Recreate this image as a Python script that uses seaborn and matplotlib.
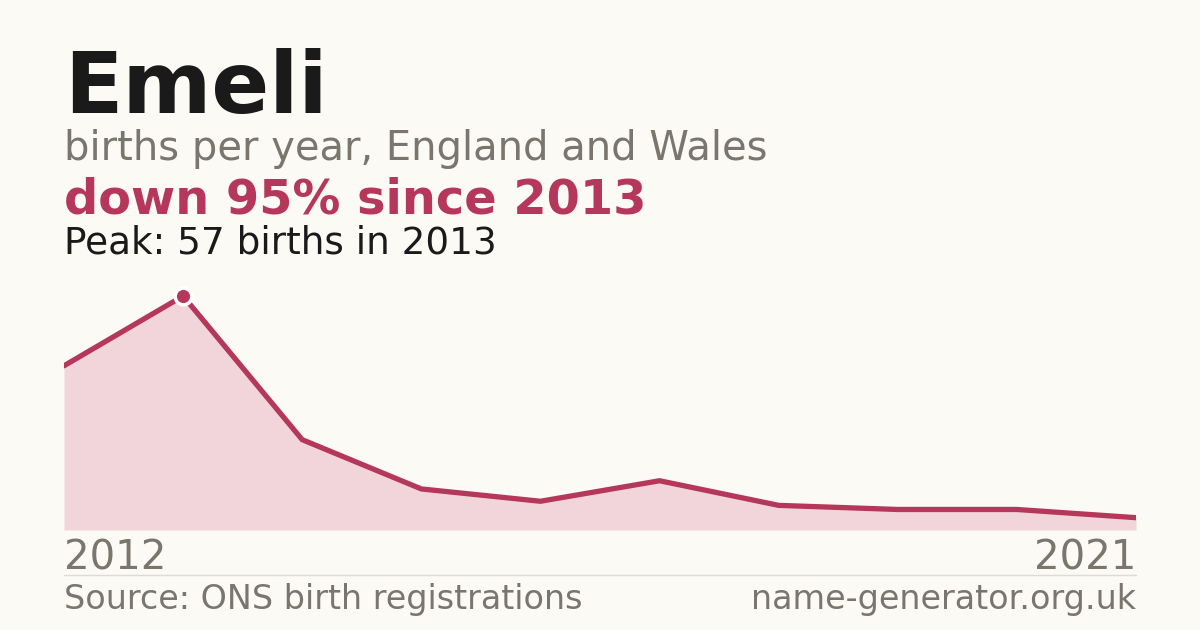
import matplotlib
matplotlib.use("Agg")
import matplotlib.pyplot as plt
import seaborn as sns
import pandas as pd
from matplotlib.lines import Line2D

years = [2012, 2013, 2014, 2015, 2016, 2017, 2018, 2019, 2020, 2021]
births = [40, 57, 22, 10, 7, 12, 6, 5, 5, 3]

name = "Emeli"
subtitle = "births per year, England and Wales"
headline = "down 95% since 2013"
peak_text = "Peak: 57 births in 2013"
source = "Source: ONS birth registrations"
site = "name-generator.org.uk"

bg = "#fbfaf5"
accent = "#b5385a"
fill = "#f1d5db"
grey = "#7a756d"
dark = "#1a1a1a"

sns.set_style("white")
plt.rcParams["font.family"] = ["DejaVu Sans"]

W, H = 1200, 630
fig = plt.figure(figsize=(12, 6.3), dpi=100, facecolor=bg)

def fx(px):
    return px / W

def fy(py):
    return 1 - py / H

# plot area: x 64..1136, y 280..530 (pixels from top)
ax = fig.add_axes([fx(64), fy(530), fx(1136) - fx(64), (530 - 280) / H])
ax.set_facecolor(bg)

df = pd.DataFrame({"year": years, "births": births})
ax.fill_between(df["year"], df["births"], 0, color=fill, lw=0)
sns.lineplot(data=df, x="year", y="births", ax=ax, color=accent, lw=3.8,
             solid_joinstyle="miter")

peak_i = df["births"].idxmax()
ax.plot(df["year"][peak_i], df["births"][peak_i], "o", color=accent, ms=12,
        mec="white", mew=2.5, zorder=5, clip_on=False)

ax.set_xlim(years[0], years[-1])
ax.set_ylim(0, max(births) * 250 / 234)
ax.axis("off")

fig.text(fx(64), fy(113), name, fontsize=61.5, fontweight="bold", color=dark, va="baseline")
fig.text(fx(64), fy(160), subtitle, fontsize=28.8, color=grey, va="baseline")
fig.text(fx(64), fy(214), headline, fontsize=34.5, fontweight="bold", color=accent, va="baseline")
fig.text(fx(64), fy(253), peak_text, fontsize=26.9, color=dark, va="baseline")

fig.text(fx(64), fy(570), str(years[0]), fontsize=29, color=grey, va="baseline", ha="left")
fig.text(fx(1136), fy(570), str(years[-1]), fontsize=29, color=grey, va="baseline", ha="right")

fig.add_artist(Line2D([fx(64), fx(1136)], [fy(574.5), fy(574.5)], color="#dedbd3", lw=1))

fig.text(fx(64), fy(609), source, fontsize=24, color=grey, va="baseline", ha="left")
fig.text(fx(1136), fy(609), site, fontsize=24, color=grey, va="baseline", ha="right")

fig.savefig("out.png", dpi=100, facecolor=bg)
